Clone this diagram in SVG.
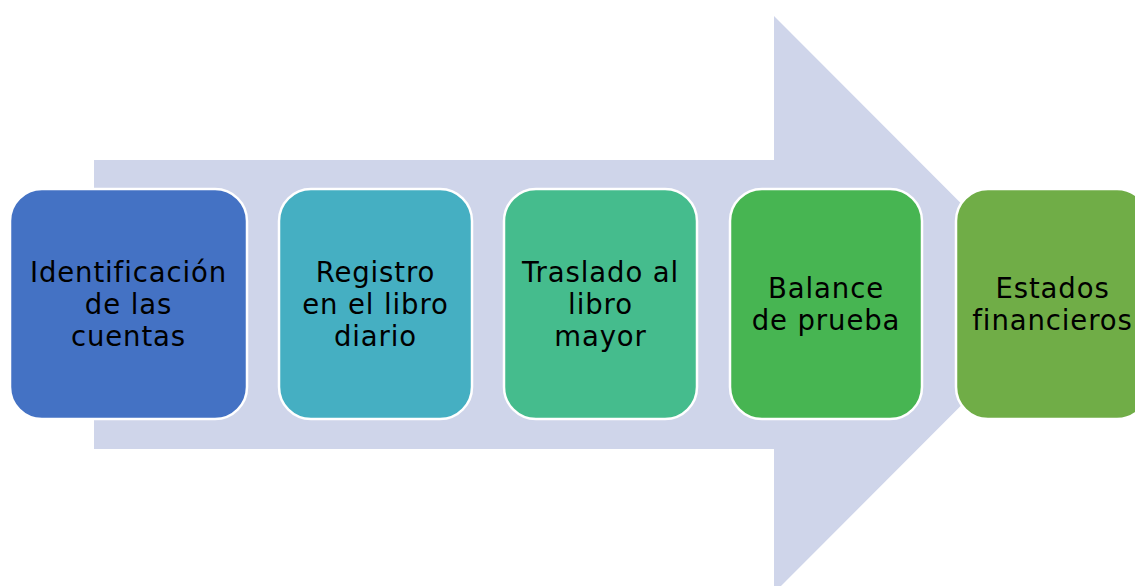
<svg xmlns="http://www.w3.org/2000/svg" width="1135" height="586" viewBox="0 0 1135 586">
  <style>
    .box { stroke: #ffffff; stroke-width: 2.5; }
    .lbl { font-family: "DejaVu Sans", "Liberation Sans", sans-serif; font-size: 27.5px; letter-spacing: 0.9px; fill: #000000; text-anchor: middle; }
  </style>
  <rect width="1135" height="586" fill="#ffffff"/>
  <g id="connectors">
    <polygon id="big-arrow" points="94,160 774,160 774,16 1062,304.5 774,593 774,449 94,449" fill="#CFD5EA"/>
  </g>
  <g id="node1">
    <rect class="box" x="10" y="189" width="237" height="230" rx="32" fill="#4472C4"/>
    <text class="lbl" x="128.5" y="282">Identificación</text>
    <text class="lbl" x="128.5" y="314">de las</text>
    <text class="lbl" x="128.5" y="346">cuentas</text>
  </g>
  <g id="node2">
    <rect class="box" x="279" y="189" width="193" height="230" rx="32" fill="#45AFC2"/>
    <text class="lbl" x="375.5" y="282">Registro</text>
    <text class="lbl" x="375.5" y="314">en el libro</text>
    <text class="lbl" x="375.5" y="346">diario</text>
  </g>
  <g id="node3">
    <rect class="box" x="504" y="189" width="193" height="230" rx="32" fill="#45BC8D"/>
    <text class="lbl" x="600.5" y="282">Traslado al</text>
    <text class="lbl" x="600.5" y="314">libro</text>
    <text class="lbl" x="600.5" y="346">mayor</text>
  </g>
  <g id="node4">
    <rect class="box" x="730" y="189" width="192" height="230" rx="32" fill="#47B552"/>
    <text class="lbl" x="826" y="298">Balance</text>
    <text class="lbl" x="826" y="330">de prueba</text>
  </g>
  <g id="node5">
    <rect class="box" x="956" y="189" width="193" height="230" rx="32" fill="#70AD47"/>
    <text class="lbl" x="1052.5" y="298">Estados</text>
    <text class="lbl" x="1052.5" y="330">financieros</text>
  </g>
</svg>
